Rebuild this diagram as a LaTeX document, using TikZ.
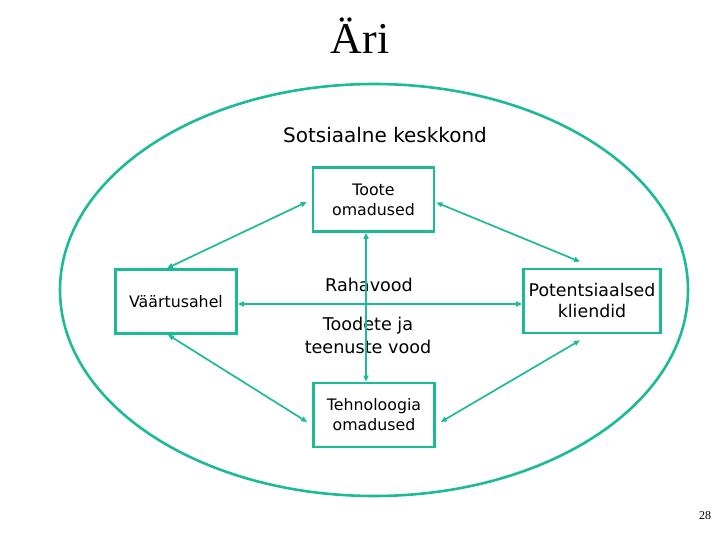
\documentclass[tikz,border=0pt]{standalone}
\usepackage{fontspec}
\setmainfont{Liberation Serif}
\newfontfamily\vfont{DejaVu Sans}
\usepackage{tikz}
\usetikzlibrary{shapes.geometric, arrows.meta, positioning}

\definecolor{ecoteal}{RGB}{28,186,150}

\begin{document}
\begin{tikzpicture}[x=1pt, y=-1pt,
    box/.style={rectangle, draw=ecoteal, line width=2.6pt, minimum width=121pt, minimum height=64pt, align=center, inner sep=1pt, font=\vfont\fontsize{15.8}{20}\selectfont},
    flow/.style={align=center, font=\vfont\fontsize{17.6}{23}\selectfont},
    arrow/.style={{Triangle[length=6pt,width=5pt]}-{Triangle[length=6pt,width=5pt]}, draw=ecoteal, line width=1.7pt}
]
\useasboundingbox (0,0) rectangle (720,540);

% Title and environment
\node[font=\fontsize{44}{48}\selectfont] (title) at (360, 36) {Äri};
\node[ellipse, draw=ecoteal, line width=2.6pt, minimum width=628pt, minimum height=412pt] (env) at (374, 290) {};
\node[font=\vfont\fontsize{20}{24}\selectfont] (social) at (385, 135) {Sotsiaalne keskkond};

% Boxes
\node[box] (toote) at (373.5, 199.5) {Toote\\omadused};
\node[box] (vaartus) at (176, 301.5) {Väärtusahel};
\node[box, minimum width=137pt, font=\vfont\fontsize{17.4}{21}\selectfont] (pot) at (592, 301) {Potentsiaalsed\\kliendid};
\node[box] (tehno) at (374, 415) {Tehnoloogia\\omadused};

% Flows
\node[flow] (raha) at (369, 285) {Rahavood};
\node[flow] (toodete) at (368, 335) {Toodete ja\\teenuste vood};

% Arrows
\draw[arrow] ([xshift=-5pt, yshift=-2.5pt]toote.west) -- ([xshift=-9pt]vaartus.north);
\draw[arrow] ([xshift=1pt, yshift=-3pt]toote.east) -- ([xshift=-12pt, yshift=6pt]pot.north);
\draw[arrow] ([xshift=-8pt]vaartus.south) -- ([xshift=-5pt, yshift=-7pt]tehno.west);
\draw[arrow] ([xshift=-12pt, yshift=-6pt]pot.south) -- ([xshift=5pt, yshift=-7pt]tehno.east);
\draw[arrow] ([yshift=-2.5pt]vaartus.east) -- ([yshift=-3pt]pot.west);
\draw[arrow] ([xshift=-7.5pt]toote.south) -- ([xshift=-8pt]tehno.north);

% Page number
\node[font=\fontsize{12}{14}\selectfont] (page) at (705, 516) {28};

\end{tikzpicture}
\end{document}
